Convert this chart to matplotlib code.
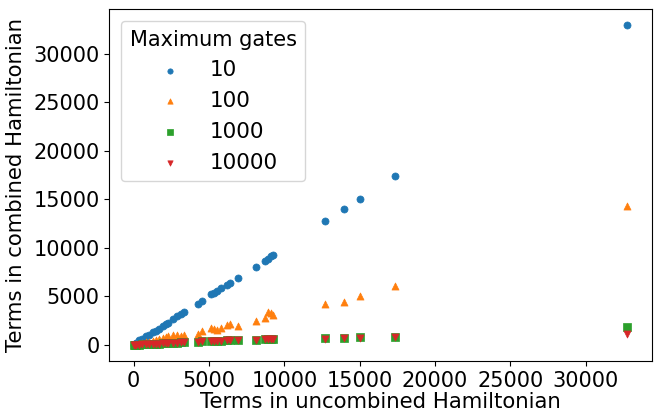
import matplotlib
matplotlib.use('Agg')
import matplotlib.pyplot as plt

# Terms in uncombined Hamiltonian (shared by all series)
terms_uncombined = [10, 60, 150, 340, 560, 790, 1010, 1250, 1460, 1690,
                    1910, 2130, 2290, 2600, 2900, 3120, 3350, 4250, 4520, 5150,
                    5320, 5500, 5820, 6220, 6380, 6900, 8140, 8700, 8900, 9080,
                    9240, 12710, 13950, 15010, 17370, 32770]

# Terms in combined Hamiltonian, per maximum gate count
combined_10 = [12, 70, 170, 480, 650, 900, 1070, 1300, 1420, 1690,
               1940, 2140, 2310, 2700, 2970, 3180, 3350, 4220, 4530, 5210,
               5400, 5560, 5830, 6190, 6350, 6870, 8080, 8670, 8880, 9150,
               9230, 12730, 13970, 15010, 17430, 32950]
combined_100 = [5, 30, 60, 130, 200, 280, 330, 420, 520, 600,
                700, 830, 900, 1000, 1050, 950, 1000, 1170, 1450, 1760,
                1630, 1520, 1760, 2040, 2210, 1940, 2460, 2730, 3350, 3250,
                3050, 4250, 4430, 5050, 6050, 14280]
combined_1000 = [5, 10, 20, 40, 60, 80, 100, 110, 130, 150,
                 170, 190, 200, 230, 250, 270, 280, 350, 370, 400,
                 420, 430, 450, 480, 500, 520, 550, 580, 600, 610,
                 620, 680, 760, 780, 870, 1870]
combined_10000 = [5, 10, 20, 40, 60, 80, 100, 110, 130, 150,
                  170, 190, 200, 230, 250, 270, 280, 340, 360, 390,
                  410, 420, 440, 470, 490, 510, 540, 570, 590, 600,
                  610, 650, 740, 760, 850, 1170]

gate_labels = ['10', '100', '1000', '10000']
series = [combined_10, combined_100, combined_1000, combined_10000]
markers = ['o', '^', 's', 'v']

fig, ax = plt.subplots(figsize=(6.54, 4.12), dpi=100)
fig.subplots_adjust(left=0.167, right=0.997, top=0.978, bottom=0.124)

for i, (label, ys) in enumerate(zip(gate_labels, series)):
    ax.scatter(terms_uncombined, ys, s=26, marker=markers[i],
               color=f'C{i}', label=label, linewidths=0.5)

ax.set_xticks(range(0, 30001, 5000))
ax.set_yticks(range(0, 30001, 5000))
ax.tick_params(labelsize=15)
ax.set_xlabel('Terms in uncombined Hamiltonian', fontsize=15.3, labelpad=1)
ax.set_ylabel('Terms in combined Hamiltonian', fontsize=15.3, labelpad=5)

leg = ax.legend(title='Maximum gates', fontsize=15.5, title_fontsize=15,
                loc='upper left', markerscale=0.75, labelspacing=0.5,
                borderaxespad=0.55)

fig.savefig('out.png', dpi=100)
